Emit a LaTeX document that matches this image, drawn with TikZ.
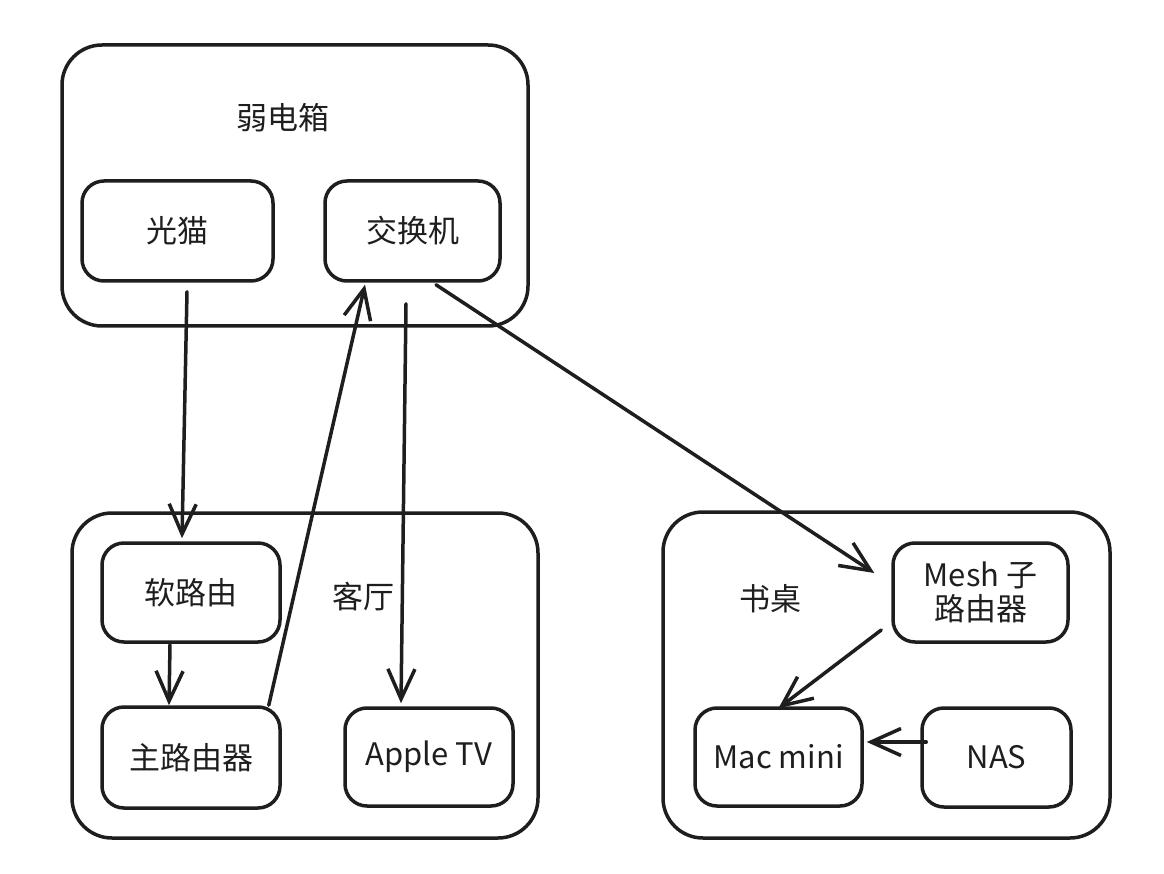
\documentclass[tikz,border=0pt]{standalone}
\usepackage{fontspec}
\setmainfont{Noto Sans CJK SC}
\usetikzlibrary{arrows.meta}
\definecolor{ink}{HTML}{1E1E1E}
\begin{document}
\begin{tikzpicture}[x=1pt,y=-1pt,
  every node/.style={text=ink,font=\fontsize{31pt}{37pt}\selectfont},
  group/.style={draw=ink,line width=3.5pt,rounded corners=40pt,inner sep=0pt},
  box/.style={draw=ink,line width=3.5pt,rounded corners=22pt,inner sep=0pt,align=center},
  lbl/.style={inner sep=0pt},
  arr/.style={draw=ink,line width=3.5pt,line cap=round,-{Straight Barb[length=30pt,width=27pt,line width=3.5pt]}}]
\useasboundingbox (0,0) rectangle (1164,874);
% groups
\node[group,minimum width=466pt,minimum height=281pt] (ruodian) at (295,185.5) {};
\node[group,minimum width=466pt,minimum height=325pt] (keting) at (305,675.5) {};
\node[group,minimum width=447pt,minimum height=326pt] (shuzhuo) at (886.5,675) {};
\node[lbl] (ruodianlbl) at (283,118) {弱电箱};
\node[lbl] (ketinglbl) at (363,597) {客厅};
\node[lbl] (shuzhuolbl) at (770,599) {书桌};
% boxes
\node[box,minimum width=191pt,minimum height=100pt] (gm) at (177.5,231) {光猫};
\node[box,minimum width=175pt,minimum height=100pt] (jh) at (412.5,231) {交换机};
\node[box,minimum width=178pt,minimum height=99pt] (rl) at (191,592.5) {软路由};
\node[box,minimum width=178pt,minimum height=101pt] (zl) at (191,757.5) {主路由器};
\node[box,minimum width=168pt,minimum height=98pt] (atv) at (429,757) {Apple TV};
\node[box,minimum width=175pt,minimum height=99pt,font=\fontsize{31pt}{34pt}\selectfont] (mesh) at (980.5,592.5) {Mesh 子\\路由器};
\node[box,minimum width=167pt,minimum height=98pt] (mac) at (778.5,757) {Mac mini};
\node[box,minimum width=149pt,minimum height=99pt] (nas) at (996.5,757.5) {NAS};
% connectors
\draw[arr] ([xshift=9.5pt,yshift=-9pt]gm.south) -- ([xshift=-9pt,yshift=3pt]rl.north);
\draw[arr] ([xshift=-21pt,yshift=-1pt]rl.south) -- ([xshift=-22pt]zl.north);
\draw[arr] ([xshift=-13pt]zl.north east) -- ([xshift=-47.5pt,yshift=-2pt]jh.south);
\draw[arr] ([xshift=-6.5pt,yshift=-21pt]jh.south) -- ([xshift=-28pt,yshift=3pt]atv.north);
\draw[arr] ([xshift=23.5pt,yshift=-2pt]jh.south) -- ([xshift=-17pt,yshift=19.5pt]mesh.west);
\draw[arr] ([xshift=-10pt,yshift=-37.5pt]mesh.west) -- ([xshift=0pt,yshift=-2pt]mac.north);
\draw[arr] ([xshift=6pt,yshift=15.5pt]nas.west) -- ([xshift=3pt,yshift=15pt]mac.east);
\end{tikzpicture}
\end{document}
